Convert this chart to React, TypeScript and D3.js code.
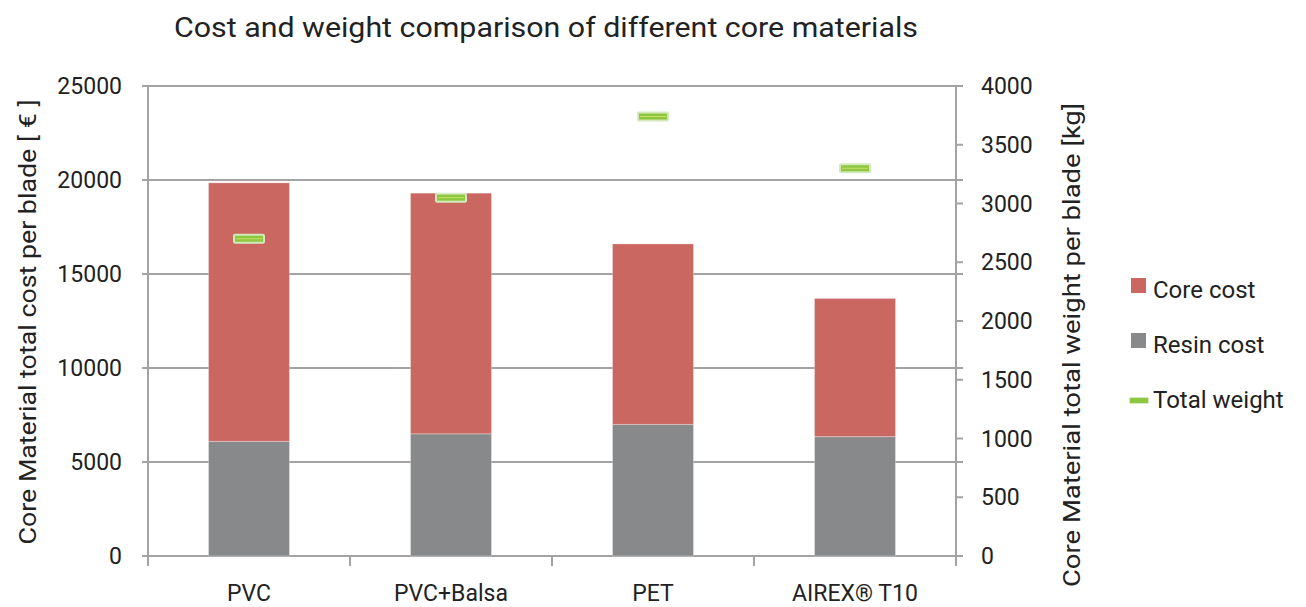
import React from 'react';
import * as d3 from 'd3';

const width = 1306;
const height = 607;
const margin = { top: 86, right: 350, bottom: 51, left: 148 };

const categories = ['PVC', 'PVC+Balsa', 'PET', 'AIREX® T10'];
const resinCost = [6100, 6500, 7000, 6350];
const coreCost = [13750, 12800, 9600, 7350];
const totalWeight = [2700, 3050, 3740, 3300];
const costTicks = [0, 5000, 10000, 15000, 20000, 25000];
const weightTicks = [0, 500, 1000, 1500, 2000, 2500, 3000, 3500, 4000];

const colors = { core: '#c96760', resin: '#88898b', weight: '#8dc63f', grid: '#a3a3a3' };
const font = 'Roboto, "DejaVu Sans Condensed", sans-serif';

function App() {
  const x0 = margin.left;
  const x1 = width - margin.right;
  const yb = height - margin.bottom;

  const x = d3.scaleBand().domain(categories).range([x0, x1]).paddingInner(0).paddingOuter(0);
  const yCost = d3.scaleLinear().domain([0, 25000]).range([yb, margin.top]);
  const yWeight = d3.scaleLinear().domain([0, 4000]).range([yb, margin.top]);
  const barW = 81;

  const stacked = categories.map((c, i) => ({ name: c, resin: resinCost[i], core: coreCost[i], weight: totalWeight[i] }));
  const series = d3.stack<any>().keys(['resin', 'core'])(stacked);

  const legend = [
    { label: 'Core cost', type: 'rect', color: colors.core },
    { label: 'Resin cost', type: 'rect', color: colors.resin },
    { label: 'Total weight', type: 'line', color: colors.weight },
  ];

  return (
    <svg width={width} height={height} style={{ position: 'absolute', left: 0, top: 0, background: '#fff' }}>
      <text x={546} y={37} textAnchor="middle" fontFamily={font} fontSize={27} fill="#222" textLength={744} lengthAdjust="spacingAndGlyphs">
        Cost and weight comparison of different core materials
      </text>

      {/* gridlines */}
      {costTicks.map((t) => (
        <line key={t} x1={x0 - 6} x2={x1 + 7} y1={yCost(t)} y2={yCost(t)} stroke={colors.grid} strokeWidth={2} />
      ))}

      {/* bars */}
      {series.map((s) => (
        <g key={s.key} fill={s.key === 'core' ? colors.core : colors.resin}>
          {s.map((d, i) => (
            <rect
              key={i}
              x={(x(categories[i]) as number) + x.bandwidth() / 2 - barW / 2}
              width={barW}
              y={yCost(d[1])}
              height={yCost(d[0]) - yCost(d[1])}
              stroke="#ffffff"
              strokeOpacity={0.3}
              strokeWidth={1}
            />
          ))}
        </g>
      ))}

      {/* weight markers */}
      {stacked.map((d) => {
        const cx = (x(d.name) as number) + x.bandwidth() / 2;
        const cy = yWeight(d.weight);
        return (
          <g key={d.name}>
            <rect x={cx - 16} y={cy - 5} width={32} height={10} rx={2} fill="#d4e9bd" />
            <rect x={cx - 14} y={cy - 3} width={28} height={6} fill={colors.weight} />
            <line x1={cx - 13} x2={cx + 13} y1={cy} y2={cy} stroke="#c9e06a" strokeWidth={1} />
          </g>
        );
      })}

      {/* left axis */}
      <line x1={x0} x2={x0} y1={margin.top} y2={yb + 10} stroke={colors.grid} strokeWidth={2} />
      {costTicks.map((t) => (
        <text key={t} x={122} y={yCost(t) + 8} textAnchor="end" fontFamily={font} fontSize={23} fill="#222">
          {t}
        </text>
      ))}

      {/* right axis */}
      <line x1={x1} x2={x1} y1={margin.top} y2={yb + 10} stroke={colors.grid} strokeWidth={2} />
      {weightTicks.map((t) => (
        <g key={t}>
          <line x1={x1} x2={x1 + 7} y1={yWeight(t)} y2={yWeight(t)} stroke={colors.grid} strokeWidth={2} />
          <text x={981} y={yWeight(t) + 8} fontFamily={font} fontSize={23} fill="#222">
            {t}
          </text>
        </g>
      ))}

      {/* bottom axis ticks */}
      {categories.map((c) => (
        <line key={c} x1={x(c) as number} x2={x(c) as number} y1={yb} y2={yb + 10} stroke={colors.grid} strokeWidth={2} />
      ))}
      {categories.map((c) => (
        <text key={c} x={(x(c) as number) + x.bandwidth() / 2} y={601} textAnchor="middle" fontFamily={font} fontSize={23} fill="#222">
          {c}
        </text>
      ))}

      {/* axis titles */}
      <text transform="translate(36, 322) rotate(-90)" textAnchor="middle" fontFamily={font} fontSize={23} fill="#222" textLength={445} lengthAdjust="spacingAndGlyphs">
        Core Material total cost per blade [ € ]
      </text>
      <text transform="translate(1080, 345) rotate(-90)" textAnchor="middle" fontFamily={font} fontSize={23} fill="#222" textLength={484} lengthAdjust="spacingAndGlyphs">
        Core Material total weight per blade [kg]
      </text>

      {/* legend */}
      {legend.map((l, i) => {
        const ly = 286 + i * 55;
        return (
          <g key={l.label}>
            {l.type === 'rect' ? (
              <rect x={1131} y={ly - 8} width={15} height={15} fill={l.color} />
            ) : (
              <g>
                <rect x={1129} y={ly + 1} width={20} height={7} rx={2} fill="#d4e9bd" />
                <rect x={1130} y={ly + 2} width={18} height={5} fill={l.color} />
              </g>
            )}
            <text x={1153} y={ly + 12} fontFamily={font} fontSize={24} fill="#222">
              {l.label}
            </text>
          </g>
        );
      })}
    </svg>
  );
}

export default App;
